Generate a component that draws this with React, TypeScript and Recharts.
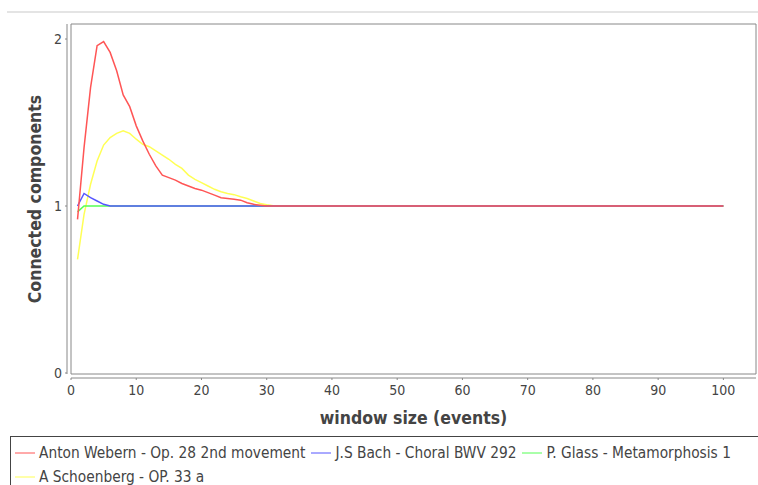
import React from 'react';
import { LineChart, Line, XAxis, YAxis, ReferenceArea } from 'recharts';

const windowSizes = [1, 2, 3, 4, 5, 6, 7, 8, 9, 10, 11, 12, 13, 14, 15, 16, 17, 18, 19, 20, 21, 22, 23, 24, 25, 26, 27, 28, 29, 30, 31, 32, 40, 50, 60, 70, 80, 90, 100];

const webern = [0.92, 1.35, 1.71, 1.96, 1.985, 1.92, 1.81, 1.665, 1.595, 1.48, 1.39, 1.31, 1.24, 1.185, 1.17, 1.155, 1.135, 1.12, 1.105, 1.095, 1.08, 1.065, 1.05, 1.045, 1.04, 1.035, 1.02, 1.01, 1.005, 1.0, 1.0, 1.0, 1.0, 1.0, 1.0, 1.0, 1.0, 1.0, 1.0];
const bach = [1.0, 1.075, 1.05, 1.03, 1.01, 1.0, 1.0, 1.0, 1.0, 1.0, 1.0, 1.0, 1.0, 1.0, 1.0, 1.0, 1.0, 1.0, 1.0, 1.0, 1.0, 1.0, 1.0, 1.0, 1.0, 1.0, 1.0, 1.0, 1.0, 1.0, 1.0, 1.0, 1.0, 1.0, 1.0, 1.0, 1.0, 1.0, 1.0];
const glass = [0.965, 1.0, 1.0, 1.0, 1.0, 1.0, 1.0, 1.0, 1.0, 1.0, 1.0, 1.0, 1.0, 1.0, 1.0, 1.0, 1.0, 1.0, 1.0, 1.0, 1.0, 1.0, 1.0, 1.0, 1.0, 1.0, 1.0, 1.0, 1.0, 1.0, 1.0, 1.0, 1.0, 1.0, 1.0, 1.0, 1.0, 1.0, 1.0];
const schoenberg = [0.68, 0.95, 1.13, 1.27, 1.365, 1.41, 1.435, 1.45, 1.435, 1.4, 1.37, 1.355, 1.33, 1.305, 1.28, 1.25, 1.225, 1.185, 1.16, 1.14, 1.12, 1.1, 1.085, 1.075, 1.068, 1.055, 1.045, 1.03, 1.015, 1.008, 1.002, 1.0, 1.0, 1.0, 1.0, 1.0, 1.0, 1.0, 1.0];

const seriesNames = [
  'Anton Webern - Op. 28 2nd movement',
  'J.S Bach - Choral BWV 292',
  'P. Glass - Metamorphosis 1',
  'A Schoenberg - OP. 33 a',
];
const seriesKeys = ['webern', 'bach', 'glass', 'schoenberg'];
const seriesColors = ['#ff5555', '#5555ff', '#55ff55', '#ffff55'];
const seriesValues = [webern, bach, glass, schoenberg];

const xTicks = [0, 10, 20, 30, 40, 50, 60, 70, 80, 90, 100];
const yTicks = [0, 1, 2];
const xDomain = [0, 105];
const yDomain = [-0.006, 2.09];

const xLabel = 'window size (events)';
const yLabel = 'Connected components';

const data = windowSizes.map((w, i) => {
  const row: any = { w };
  seriesKeys.forEach((k, j) => {
    row[k] = seriesValues[j][i];
  });
  return row;
});

const FONT = "'DejaVu Sans Condensed', 'DejaVu Sans', sans-serif";
const TEXT = '#444444';
const AXIS = '#888888';

const XTick = (props: any) => {
  const { x, y, payload } = props;
  return (
    <g>
      <line x1={x} x2={x} y1={y + 4} y2={y + 6} stroke={AXIS} />
      <text x={x} y={y + 21} textAnchor="middle" fill={TEXT} fontSize={14} fontFamily={FONT}>
        {payload.value}
      </text>
    </g>
  );
};

const YTick = (props: any) => {
  const { x, y, payload } = props;
  return (
    <g>
      <line x1={x - 6} x2={x - 4} y1={y} y2={y} stroke={AXIS} />
      <text x={x - 9} y={y + 5} textAnchor="end" fill={TEXT} fontSize={14} fontFamily={FONT}>
        {payload.value}
      </text>
    </g>
  );
};

const drawOrder = [3, 2, 1, 0];

export default function App() {
  return (
    <div style={{ position: 'absolute', left: 0, top: 0, width: 758, height: 485, background: '#fff', overflow: 'hidden' }}>
      <div style={{ position: 'absolute', left: 7, top: 11, right: 0, height: 2, background: '#e4e4e4' }} />
      <div style={{ position: 'absolute', left: 0, top: 0 }}>
        <LineChart width={758} height={485} data={data} margin={{ top: 24, right: 2, left: 11, bottom: 61 }}>
          <XAxis
            dataKey="w"
            type="number"
            domain={xDomain}
            ticks={xTicks}
            allowDataOverflow
            height={50}
            tickSize={0}
            tickMargin={0}
            tickLine={false}
            axisLine={{ stroke: AXIS, transform: 'translate(0 4)' } as any}
            tick={<XTick />}
            label={{ value: xLabel, position: 'insideBottom', offset: 0, dy: 0, fill: TEXT, fontSize: 17.5, fontWeight: 'bold', fontFamily: FONT } as any}
          />
          <YAxis
            type="number"
            domain={yDomain}
            ticks={yTicks}
            allowDataOverflow
            width={60}
            tickSize={0}
            tickMargin={0}
            tickLine={false}
            axisLine={{ stroke: AXIS, transform: 'translate(-4 0)' } as any}
            tick={<YTick />}
            label={{ value: yLabel, angle: -90, position: 'insideLeft', offset: 0, dx: 24, fill: TEXT, fontSize: 17.5, fontWeight: 'bold', fontFamily: FONT, style: { textAnchor: 'middle' } } as any}
          />
          <ReferenceArea x1={xDomain[0]} x2={xDomain[1]} y1={yDomain[0]} y2={yDomain[1]} fill="none" stroke={AXIS} strokeWidth={1} ifOverflow="visible" />
          {drawOrder.map((i) => (
            <Line
              key={seriesKeys[i]}
              dataKey={seriesKeys[i]}
              type="linear"
              stroke={seriesColors[i]}
              strokeWidth={1.5}
              dot={false}
              isAnimationActive={false}
            />
          ))}
        </LineChart>
      </div>
      <div
        style={{
          position: 'absolute',
          left: 10,
          top: 436,
          width: 760,
          height: 70,
          border: '1px solid #444',
          boxSizing: 'border-box',
          padding: '4px 0 0 4px',
          display: 'flex',
          flexWrap: 'wrap',
          alignContent: 'flex-start',
          fontFamily: FONT,
          fontSize: 15.3,
          color: TEXT,
        }}
      >
        {seriesNames.map((name, i) => (
          <div key={name} style={{ display: 'flex', alignItems: 'center', height: 24, marginRight: 6 }}>
            <svg width={20} height={4} style={{ marginRight: 4, display: 'block' }}>
              <line x1={0} x2={20} y1={2} y2={2} stroke={seriesColors[i]} strokeWidth={1} />
            </svg>
            <span style={{ whiteSpace: 'nowrap' }}>{name}</span>
          </div>
        ))}
      </div>
    </div>
  );
}
